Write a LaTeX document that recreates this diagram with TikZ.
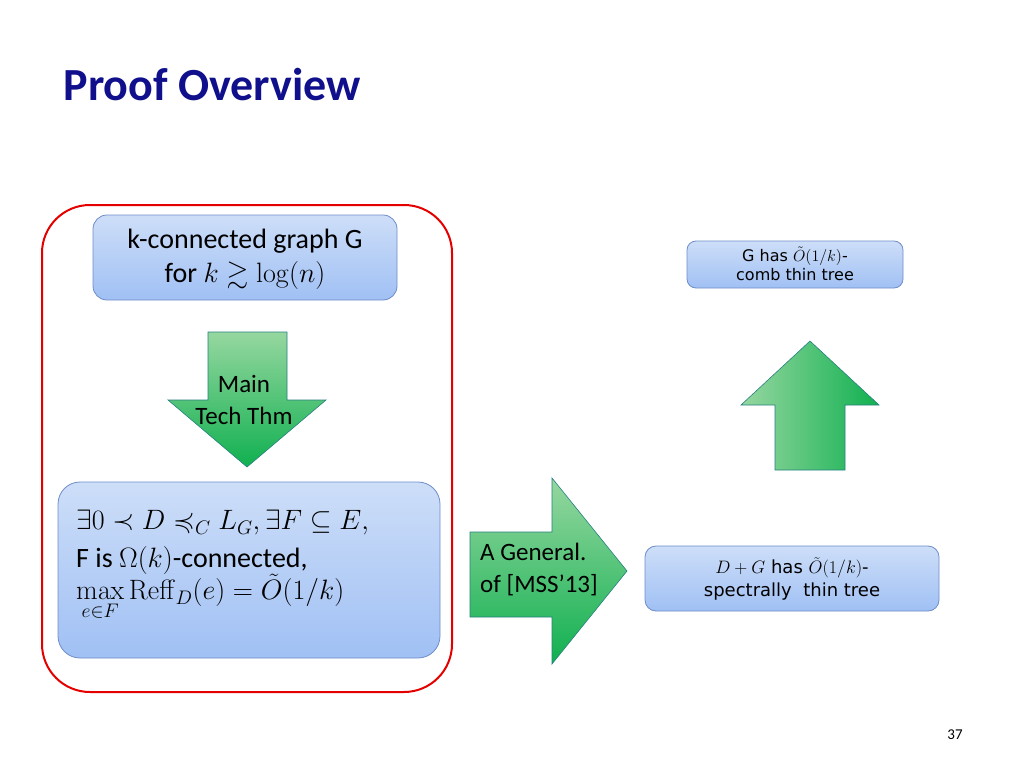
\documentclass[tikz,border=0pt]{standalone}
\usepackage{fix-cm}
\usepackage{amsmath,amssymb}
\usepackage[no-math]{fontspec}
\setmainfont{Carlito}
\newfontfamily\verd{DejaVu Sans}
\begin{document}
\begin{tikzpicture}[x=1pt,y=-1pt,
  greenarrow/.style={draw=teal!70!gray, line width=0.6pt},
  txt/.style={align=center, inner sep=0pt}]
\useasboundingbox (0,0) rectangle (1024,768);
\definecolor{titleblue}{RGB}{16,16,140}
\definecolor{glight}{RGB}{150,215,160}
\definecolor{gdark}{RGB}{16,176,80}
\definecolor{bltop}{RGB}{205,222,248}
\definecolor{blbot}{RGB}{160,192,244}
\definecolor{blborder}{RGB}{110,140,200}
\node[anchor=base west, text=titleblue, font=\fontsize{46}{48}\selectfont\bfseries] (title) at (60,100) {Proof Overview};
% red frame
\draw[red!90!black, line width=2pt, rounded corners=48pt] (42,205) rectangle (452,692);
% box 1
\draw[draw=blborder, line width=0.8pt, rounded corners=14pt, top color=bltop, bottom color=blbot] (93,215) rectangle (397,300);
\node[txt, font=\fontsize{28}{34}\selectfont] (b1) at (245,259) {k-connected graph G\\for $k\gtrsim\log(n)$};
% down arrow
\draw[greenarrow, top color=glight, bottom color=gdark] (208,332) -- (287,332) -- (287,400) -- (326,400) -- (247,467) -- (168,400) -- (208,400) -- cycle;
\node[txt, font=\fontsize{25}{32}\selectfont] (mt) at (244,400) {Main\\Tech Thm};
% box 2
\draw[draw=blborder, line width=0.8pt, rounded corners=22pt, top color=bltop, bottom color=blbot] (58,482) rectangle (440,658);
\node[txt, align=left, anchor=west, font=\fontsize{28}{38}\selectfont] (b2) at (76,566)
 {$\exists 0\prec D\preccurlyeq_C L_G,\exists F\subseteq E,$\\F is $\Omega(k)$-connected,\\[-6pt]
  $\displaystyle\max_{e\in F}\mathrm{Reff}_D(e)=\tilde{O}(1/k)$};
% right arrow
\draw[greenarrow, top color=glight, bottom color=gdark] (470,532) -- (552,532) -- (552,478) -- (627,571) -- (552,664) -- (552,617) -- (470,617) -- cycle;
\node[txt, align=left, anchor=west, font=\fontsize{25}{32}\selectfont] (ag) at (480,570) {A General.\\of [MSS'13]};
% box 3
\draw[draw=blborder, line width=0.8pt, rounded corners=9pt, top color=bltop, bottom color=blbot] (687,241) rectangle (903,288);
\node[txt, font=\verd\fontsize{16}{19}\selectfont] (b3) at (795,264) {G has $\tilde{O}(1/k)$-\\comb thin tree};
% up arrow
\draw[greenarrow, left color=glight, right color=gdark] (810,341) -- (879,405) -- (845,405) -- (845,470) -- (775,470) -- (775,405) -- (741,405) -- cycle;
% box 4
\draw[draw=blborder, line width=0.8pt, rounded corners=11pt, top color=bltop, bottom color=blbot] (645,546) rectangle (939,611);
\node[txt, font=\verd\fontsize{18}{23}\selectfont] (b4) at (792,579) {$D+G$ has $\tilde{O}(1/k)$-\\spectrally\ \ thin tree};
\node[font=\fontsize{15}{17}\selectfont] (pg) at (955,735) {37};
\end{tikzpicture}
\end{document}
